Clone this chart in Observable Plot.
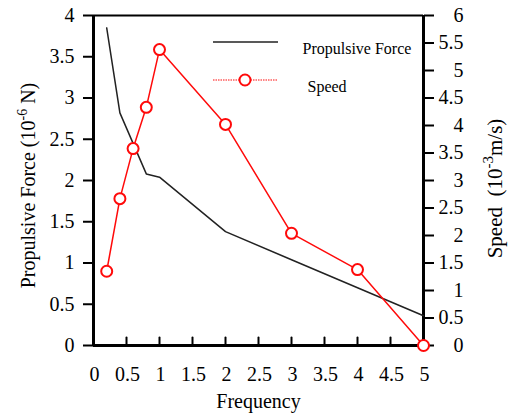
<!DOCTYPE html>
<html><head><meta charset="utf-8">
<script src="https://cdn.jsdelivr.net/npm/d3@7"></script>
<script src="https://cdn.jsdelivr.net/npm/@observablehq/plot@0.6"></script>
<style>
body{margin:0;background:#fff}
svg, svg text, svg tspan {font-family: "Liberation Serif", "Times New Roman", serif !important;}
</style>
</head><body><div id="chart"></div>
<script>
const forceFreq = [0.2, 0.4, 0.8, 1, 2, 3, 4, 5];
const forceVals = [3.85, 2.82, 2.08, 2.04, 1.38, 1.04, 0.70, 0.36];
const speedFreq = [0.2, 0.4, 0.6, 0.8, 1, 2, 3, 4, 5];
const speedVals = [1.35, 2.67, 3.58, 4.33, 5.38, 4.02, 2.04, 1.38, 0];
const xTicks = [0, 0.5, 1, 1.5, 2, 2.5, 3, 3.5, 4, 4.5, 5];
const forceTicks = [0, 0.5, 1, 1.5, 2, 2.5, 3, 3.5, 4];
const speedTicks = [0, 0.5, 1, 1.5, 2, 2.5, 3, 3.5, 4, 4.5, 5, 5.5, 6];
const seriesNames = ["Propulsive Force", "Speed"];

const forceMax = 4, speedMax = 6;
const toLeft = v => v * forceMax / speedMax;
const fmt = d => d3.format("~g")(Math.round(d * 100) / 100);

const force = forceFreq.map((f, i) => ({f, v: forceVals[i]}));
const speed = speedFreq.map((f, i) => ({f, v: toLeft(speedVals[i])}));
const RED = "#ff0a0a";

const tickShape = {draw(ctx, l) { ctx.moveTo(0, 0); ctx.lineTo(0, -l); }};

const chart = Plot.plot({
  width: 510, height: 420,
  marginLeft: 93, marginRight: 87, marginTop: 15, marginBottom: 75,
  style: {fontFamily: "Liberation Serif", fontSize: "20px", background: "#fff", color: "#000"},
  x: {domain: [0, 5]},
  y: {domain: [0, forceMax]},
  marks: [
    Plot.axisY(forceTicks, {anchor: "left", tickSize: 10, tickPadding: 9, strokeWidth: 2, label: null, fontSize: 20, tickFormat: fmt}),
    Plot.axisY(speedTicks.map(toLeft), {anchor: "right", tickSize: 10, tickPadding: 30, strokeWidth: 2, label: null, fontSize: 20,
      textAnchor: "end", tickFormat: d => fmt(d * speedMax / forceMax)}),
    Plot.vectorX(xTicks, {frameAnchor: "bottom", length: 8, anchor: "start", rotate: 0, shape: tickShape, strokeWidth: 2, stroke: "#000"}),
    Plot.axisX(xTicks, {anchor: "bottom", tickSize: 0, tickPadding: 21, label: null, fontSize: 20, tickFormat: fmt, dx: 1}),
    Plot.ruleX([0], {strokeWidth: 3}),
    Plot.ruleX([5], {strokeWidth: 3}),
    Plot.ruleY([0], {strokeWidth: 3}),
    Plot.ruleY([forceMax], {strokeWidth: 2}),
    Plot.line(force, {x: "f", y: "v", stroke: "#222", strokeWidth: 1.5}),
    Plot.line(speed, {x: "f", y: "v", stroke: RED, strokeWidth: 1.5}),
    Plot.dot(speed, {x: "f", y: "v", r: 5.5, stroke: RED, strokeWidth: 2, fill: "#fff"}),
    // legend
    Plot.text([seriesNames[0]], {frameAnchor: "top-left", dx: 209, dy: 27, textAnchor: "start", fontSize: 16}),
    Plot.text([seriesNames[1]], {frameAnchor: "top-left", dx: 214, dy: 65, textAnchor: "start", fontSize: 16}),
    // axis titles
    Plot.text(["Frequency"], {frameAnchor: "bottom", dy: 62, fontSize: 20, textAnchor: "middle"}),
    Plot.text(["YLEFT"], {frameAnchor: "left", dx: -65, dy: 5, rotate: -90, fontSize: 20, textAnchor: "middle"}),
    Plot.text(["YRIGHT"], {frameAnchor: "right", dx: 72, dy: 8, rotate: -90, fontSize: 21, textAnchor: "middle"})
  ]
});
document.getElementById("chart").appendChild(chart);

const svg = d3.select(chart);
svg.selectAll("text").each(function() {
  const t = d3.select(this);
  const s = t.text();
  if (s === "YLEFT") {
    t.text(null);
    t.append("tspan").text("Propulsive Force (10");
    t.append("tspan").attr("dy", -8).attr("font-size", 14).text("-6");
    t.append("tspan").attr("dy", 8).text(" N)");
  } else if (s === "YRIGHT") {
    t.text(null);
    t.append("tspan").text("Speed\u00a0\u00a0(10");
    t.append("tspan").attr("dy", -9).attr("font-size", 15).text("-3");
    t.append("tspan").attr("dy", 9).text("m/s)");
  }
});

// legend line samples
const g = svg.append("g");
g.append("line").attr("x1", 213).attr("x2", 278).attr("y1", 42).attr("y2", 42)
  .attr("stroke", "#222").attr("stroke-width", 1.5);
g.append("line").attr("x1", 213).attr("x2", 278).attr("y1", 80).attr("y2", 80)
  .attr("stroke", RED).attr("stroke-width", 1.2).attr("stroke-dasharray", "1.5,1");
g.append("circle").attr("cx", 245).attr("cy", 80).attr("r", 5.5)
  .attr("stroke", RED).attr("stroke-width", 2).attr("fill", "#fff");
</script>
</body></html>
